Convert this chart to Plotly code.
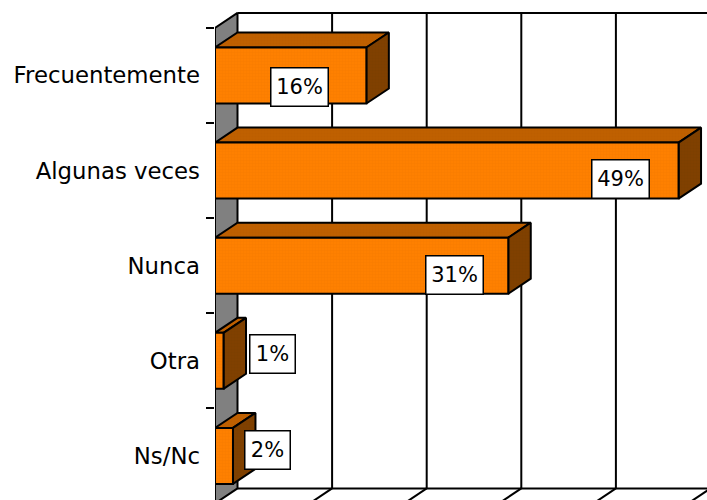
import plotly.graph_objects as go

categories = ["Frecuentemente", "Algunas veces", "Nunca", "Otra", "Ns/Nc"]
values = [16, 49, 31, 0.9, 1.9]
labels = ["16%", "49%", "31%", "1%", "2%"]
grid_values = [0, 10, 20, 30, 40, 50]

W, H = 707, 500
LEFT = 215
PX_X = 9.46   # pixels per percent
PX_Y = 95.1   # pixels per category
Y0 = 75.5     # pixel centre of first category
DX = 22.5 / PX_X
DY = 15 / PX_Y
HALF = 28 / PX_Y
X_MAX = (W - LEFT) / PX_X
Y_TOP = -Y0 / PX_Y
Y_BOT = (H - Y0) / PX_Y
N = len(categories)
FLOOR = N - 0.5
CEIL = -0.5

FRONT, TOP, SIDE, WALL = "#FF8000", "#C06000", "#804000", "#808080"
DOT = {FRONT: "#F47A00", TOP: "#B85C00", SIDE: "#7A3D00"}
LW = 2
FONT = "DejaVu Sans"

# label box offsets from the bar end, in pixels
label_dx = [-66.5, -58, -53.5, 48.5, 35]
label_dy = [11, 8.5, 9, -7, -5.5]

fig = go.Figure()


def poly(xs, ys, fill=None, width=LW):
    kw = {}
    if fill in DOT:
        kw["fillpattern"] = dict(shape=".", size=3, solidity=0.5, fgcolor=DOT[fill], bgcolor=fill)
    fig.add_trace(go.Scatter(
        x=xs, y=ys, mode="lines", cliponaxis=False, hoverinfo="skip",
        line=dict(color="black", width=width),
        fill="toself" if fill else None, fillcolor=fill, **kw,
    ))


# back wall grid
for g in grid_values[1:]:
    poly([g + DX, g + DX], [CEIL - DY, FLOOR - DY])
    poly([g + DX, g], [FLOOR - DY, FLOOR])
poly([DX, X_MAX], [CEIL - DY, CEIL - DY])
poly([DX, X_MAX], [FLOOR - DY, FLOOR - DY])

# left wall
poly([0, DX, DX, 0, 0], [CEIL, CEIL - DY, FLOOR - DY, FLOOR, CEIL], fill=WALL)

# bars
for i, v in enumerate(values):
    t, b = i - HALF, i + HALF
    poly([0, DX, v + DX, v, 0], [t, t - DY, t - DY, t, t], fill=TOP)
    poly([v, v + DX, v + DX, v, v], [t, t - DY, b - DY, b, t], fill=SIDE)
    poly([0, v, v, 0, 0], [t, t, b, b, t], fill=FRONT)

annotations = []
for i, v in enumerate(values):
    w = 54 if len(labels[i]) == 3 else 42
    annotations.append(dict(
        x=v, y=i, xref="x", yref="y", text=labels[i], showarrow=False,
        xshift=label_dx[i], yshift=-label_dy[i],
        width=w, height=35, bgcolor="white", bordercolor="black", borderwidth=1.5,
        font=dict(family=FONT, size=21, color="black"), align="center", valign="middle",
    ))

fig.update_layout(
    width=W, height=H, autosize=False, showlegend=False,
    paper_bgcolor="white", plot_bgcolor="white",
    margin=dict(l=LEFT, r=0, t=0, b=0, pad=0),
    annotations=annotations,
    xaxis=dict(range=[0, X_MAX], showgrid=False, zeroline=False, showticklabels=False, ticks="", fixedrange=True),
    yaxis=dict(
        range=[Y_BOT, Y_TOP], showgrid=False, zeroline=False, showline=False,
        tickmode="array", tickvals=list(range(N)), ticktext=categories,
        ticks="", ticklabelstandoff=14,
        tickfont=dict(family=FONT, size=22.8, color="black"),
        minor=dict(tickmode="array", tickvals=[i - 0.5 for i in range(N + 1)],
                   ticks="outside", ticklen=8, tickwidth=1.5, tickcolor="black", showgrid=False),
        fixedrange=True,
    ),
)

fig.write_html("out.html", config=dict(displayModeBar=False),
               post_script="document.documentElement.style.overflow='hidden';document.body.style.margin='0';")
